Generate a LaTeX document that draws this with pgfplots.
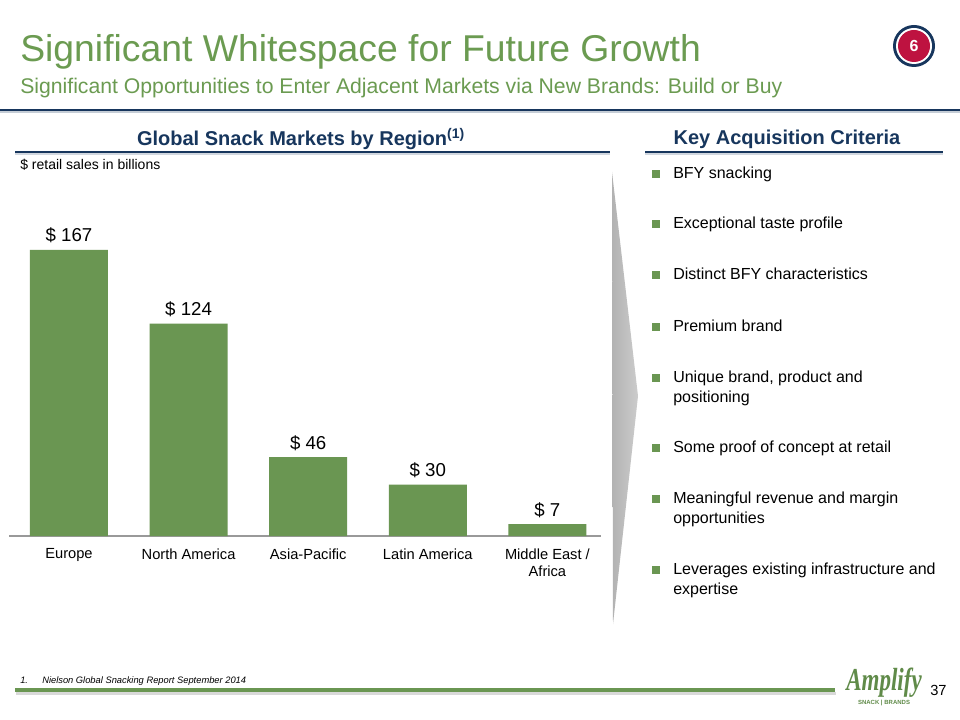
\documentclass[border=0pt]{standalone}
\usepackage{pgfplots}
\pgfplotsset{compat=1.18}
\usepackage{fontspec}
\setmainfont{Liberation Sans}
\newfontfamily\logofont[FakeStretch=0.72]{Liberation Serif}

\definecolor{navy}{HTML}{17365D}
\definecolor{barg}{HTML}{6A9652}
\definecolor{titleg}{HTML}{6B9B51}
\definecolor{badge}{HTML}{BE1240}

\begin{document}
\begin{tikzpicture}[x=0.75pt,y=0.75pt]
% slide frame, in pixels (y downwards as negative)
\useasboundingbox (0,0) rectangle (960,-720);
\fill[white] (0,0) rectangle (960,-720);

% titles
\node[anchor=base west, inner sep=0, text=titleg] at (20,-62)
  {\fontsize{28}{32}\selectfont Significant Whitespace for Future Growth};
\node[anchor=base west, inner sep=0, text=titleg] at (20,-94)
  {\fontsize{15.9}{19}\selectfont Significant Opportunities to Enter Adjacent Markets via New Brands: Build or Buy};

% badge
\fill[navy] (914,-46) circle (21);
\fill[white] (914,-46) circle (18);
\fill[badge] (914,-46) circle (16);
\node[text=white, font=\bfseries\fontsize{12}{14}\selectfont] at (914,-46) {6};

% top rule
\fill[navy] (0,-109) rectangle (960,-111.5);
\fill[navy!25] (0,-111.5) rectangle (960,-113);

% section headings
\node[text=navy, font=\bfseries\fontsize{15}{18}\selectfont] at (301,-139)
  {Global Snack Markets by Region\textsuperscript{(1)}};
\node[text=navy, font=\bfseries\fontsize{15}{18}\selectfont] at (787,-139)
  {Key Acquisition Criteria};
\fill[navy] (15,-151) rectangle (610,-153.5);
\fill[navy!20] (15,-153.5) rectangle (610,-155);
\fill[navy] (645,-151) rectangle (943,-153.5);
\fill[navy!20] (645,-153.5) rectangle (943,-155);

\node[anchor=base west, inner sep=0, font=\fontsize{10.5}{12}\selectfont] at (20,-170)
  {\$ retail sales in billions};

% grey arrow between chart and criteria
\shade[left color=black!30, right color=black!20] (612,-172) -- (638,-396) -- (613,-624) -- cycle;

% chart (positions in pt: 1px = 0.75pt)
\begin{axis}[
  at={(6.9pt,-402pt)}, anchor=south west,
  scale only axis,
  width=444pt, height=256.95pt,
  xmin=-0.5, xmax=4.45, ymin=0, ymax=200,
  axis x line*=bottom,
  x axis line style={-, draw=black!40, line width=1pt},
  hide y axis,
  ybar, bar width=58.5pt,
  xtick={0,1,2,3,4},
  xticklabels={Europe, North America, Asia-Pacific, Latin America, {Middle East /\\Africa}},
  major tick length=0pt,
  xticklabel style={font=\fontsize{11}{12.5}\selectfont, align=center, yshift=-6pt, anchor=north},
  /pgf/number format/assume math mode=true,
  nodes near coords={\$ \pgfmathprintnumber{\pgfplotspointmeta}},
  nodes near coords style={font=\fontsize{14}{16}\selectfont, yshift=1.5pt},
  clip=false,
]
\addplot[fill=barg, draw=none] coordinates {
  (0,167) (1,124) (2,46) (3,30) (4,7)
};
\end{axis}

% criteria list
\foreach \yy in {174,224,275,327,378,448,499,570}
  \fill[barg] (652,-\yy+4) rectangle (660,-\yy-4);
\begin{scope}[every node/.style={anchor=base west, inner sep=0, font=\fontsize{12}{14}\selectfont}]
\node at (673,-178.5) {BFY snacking};
\node at (673,-228.5) {Exceptional taste profile};
\node at (673,-279.5) {Distinct BFY characteristics};
\node at (673,-331.5) {Premium brand};
\node at (673,-382.5) {Unique brand, product and};
\node at (673,-402.5) {positioning};
\node at (673,-452.5) {Some proof of concept at retail};
\node at (673,-503.5) {Meaningful revenue and margin};
\node at (673,-523.5) {opportunities};
\node at (673,-574.5) {Leverages existing infrastructure and};
\node at (673,-594.5) {expertise};
\end{scope}

% footer
\node[anchor=base west, inner sep=0, font=\itshape\fontsize{7}{8}\selectfont] at (20,-683) {1.};
\node[anchor=base west, inner sep=0, font=\itshape\fontsize{7}{8}\selectfont] at (42,-683)
  {Nielson Global Snacking Report September 2014};
\fill[black!15] (16,-692) rectangle (836,-695);
\fill[barg] (15,-688) rectangle (835,-692);
\node[text=titleg!90!black, inner sep=0, font=\logofont\bfseries\itshape\fontsize{24}{26}\selectfont] at (884,-683) {Amplify};
\node[text=titleg!90!black, inner sep=0, font=\bfseries\fontsize{4.5}{5}\selectfont] at (884,-703) {SNACK \textbar\ BRANDS};
\node[anchor=west, inner sep=0, font=\fontsize{11}{13}\selectfont] at (930,-690) {37};
\end{tikzpicture}
\end{document}
